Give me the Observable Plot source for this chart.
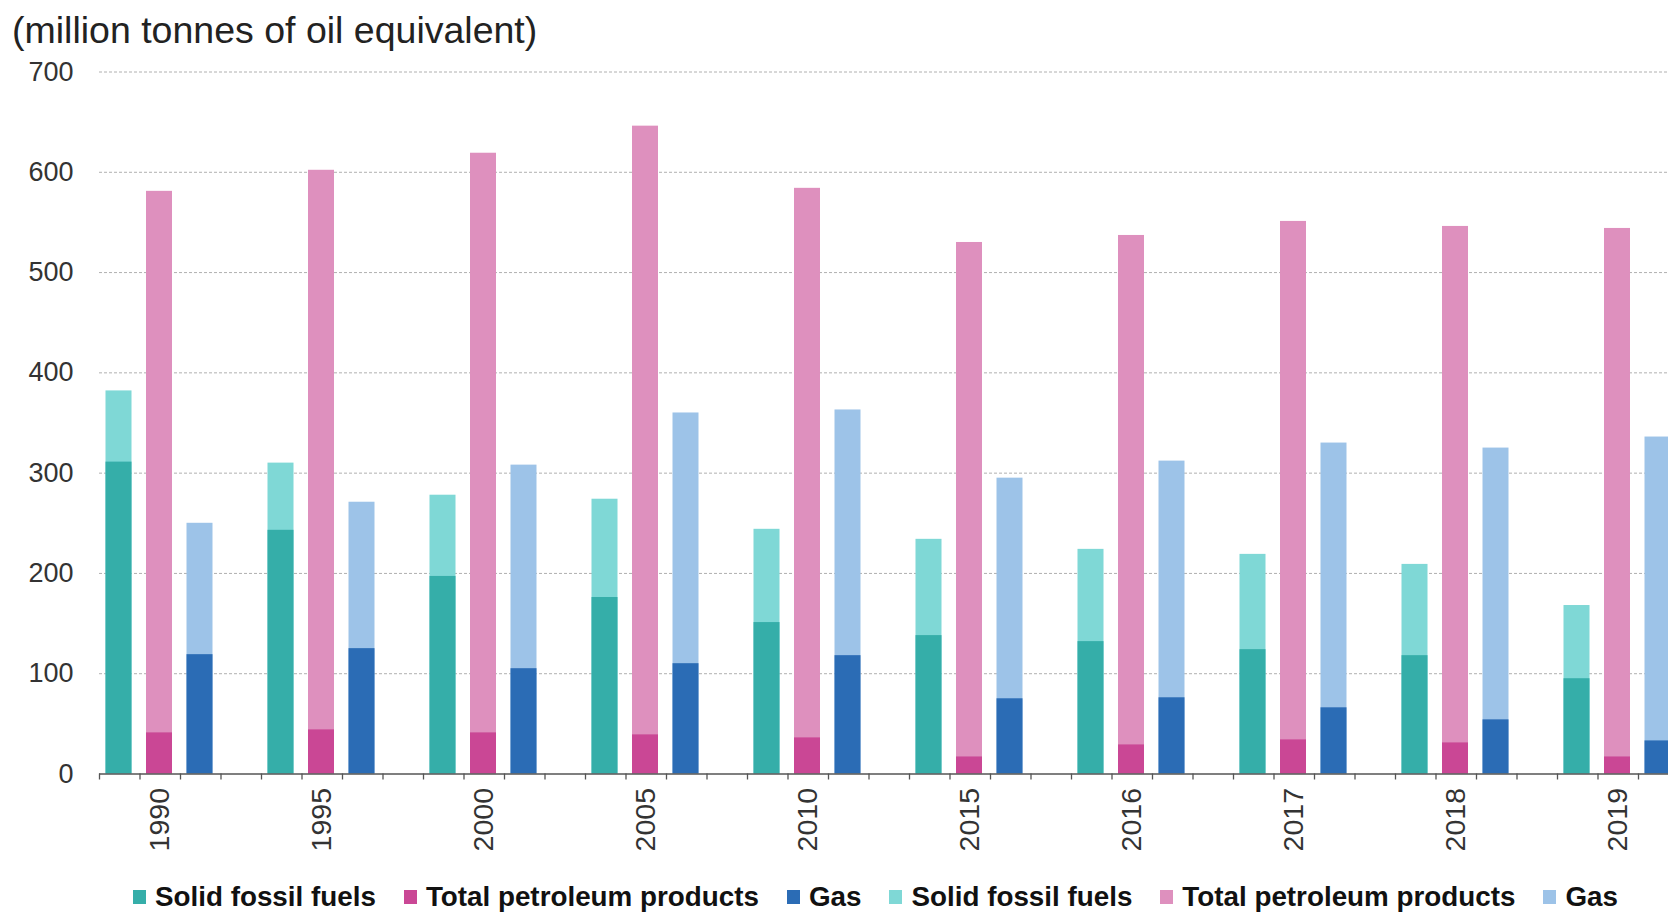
<!DOCTYPE html>
<html>
<head>
<meta charset="utf-8">
<script src="https://cdn.jsdelivr.net/npm/d3@7"></script>
<script src="https://cdn.jsdelivr.net/npm/@observablehq/plot@0.6"></script>
<style>
  html, body { margin: 0; padding: 0; background: #fff; overflow: hidden; width: 1668px; height: 915px; }
  body { font-family: "Liberation Sans", Arial, sans-serif; }
  #title { font-size: 37.5px; color: #222; line-height: 44px; padding: 8px 0 0 12px; height: 44px; white-space: nowrap; }
  #chart { height: 818px; }
  #legend { display: flex; align-items: center; padding: 12px 0 0 133px; line-height: 30px; font-size: 27.8px; font-weight: bold; color: #111; white-space: nowrap; }
  #legend .item { display: flex; align-items: center; margin-right: 28px; }
  #legend .sw { width: 13px; height: 14px; margin-right: 9px; }
</style>
</head>
<body>
<div id="title">(million tonnes of oil equivalent)</div>
<div id="chart"></div>
<div id="legend"></div>
<script>
// ---- data ----
const years = ["1990", "1995", "2000", "2005", "2010", "2015", "2016", "2017", "2018", "2019"];
const fuels = ["Solid fossil fuels", "Total petroleum products", "Gas"];
const solidTotal     = [382, 310, 278, 274, 244, 234, 224, 219, 209, 168];
const solidDark      = [311, 243, 197, 176, 151, 138, 132, 124, 118, 95];
const petroleumTotal = [581, 602, 619, 646, 584, 530, 537, 551, 546, 544];
const petroleumDark  = [41, 44, 41, 39, 36, 17, 29, 34, 31, 17];
const gasTotal       = [250, 271, 308, 360, 363, 295, 312, 330, 325, 336];
const gasDark        = [119, 125, 105, 110, 118, 75, 76, 66, 54, 33];
const yTicks = [0, 100, 200, 300, 400, 500, 600, 700];

// ---- styles ----
const darkColors  = {"Solid fossil fuels": "#35aea9", "Total petroleum products": "#ca4795", "Gas": "#2b6cb5"};
const lightColors = {"Solid fossil fuels": "#7fd8d6", "Total petroleum products": "#de90be", "Gas": "#9dc3e8"};

const totals = [solidTotal, petroleumTotal, gasTotal];
const darks = [solidDark, petroleumDark, gasDark];
const slotsPerYear = fuels.length + 1;
const nSlots = years.length * slotsPerYear;

const rows = [];
years.forEach((year, i) => fuels.forEach((fuel, j) => {
  rows.push({year, fuel, slot: i * slotsPerYear + j, total: totals[j][i], dark: darks[j][i]});
}));
const yearLabels = years.map((year, i) => ({year, pos: i * slotsPerYear + 1.5}));

const chart = Plot.plot({
  width: 1720,
  height: 818,
  marginLeft: 99,
  marginRight: 1,
  marginTop: 19.5,
  marginBottom: 96.5,
  style: {fontFamily: "'Liberation Sans', Arial, sans-serif", maxWidth: "none", overflow: "visible", background: "transparent"},
  x: {type: "linear", domain: [0, nSlots]},
  y: {domain: [0, 700]},
  color: {type: "identity"},
  marks: [
    Plot.gridY(yTicks.slice(1), {stroke: "#b0b0b0", strokeOpacity: 1, strokeDasharray: "3,2"}),
    Plot.rectY(rows, {x1: "slot", x2: d => d.slot + 1, y: "total", fill: d => lightColors[d.fuel], insetLeft: 6.5, insetRight: 8}),
    Plot.rectY(rows, {x1: "slot", x2: d => d.slot + 1, y: "dark", fill: d => darkColors[d.fuel], insetLeft: 6.5, insetRight: 8}),
    Plot.ruleY([0], {stroke: "#555", strokeWidth: 1.5}),
    Plot.axisX(d3.range(nSlots + 1), {tickSize: 6, tickFormat: () => "", stroke: "#555", strokeWidth: 1.3}),
    Plot.axisY(yTicks, {tickSize: 0, tickPadding: 26, fontSize: 27, color: "#333"}),
    Plot.text(yearLabels, {x: "pos", y: () => 0, text: "year", rotate: -90, textAnchor: "end", dy: 14, fontSize: 28.5, fill: "#333"})
  ]
});
document.getElementById("chart").appendChild(chart);

// ---- legend ----
const legend = document.getElementById("legend");
const legendEntries = [
  ...fuels.map(f => ({label: f, color: darkColors[f]})),
  ...fuels.map(f => ({label: f, color: lightColors[f]}))
];
legendEntries.forEach(e => {
  const item = document.createElement("div");
  item.className = "item";
  const sw = document.createElement("span");
  sw.className = "sw";
  sw.style.background = e.color;
  const t = document.createElement("span");
  t.textContent = e.label;
  item.appendChild(sw);
  item.appendChild(t);
  legend.appendChild(item);
});
</script>
</body>
</html>
